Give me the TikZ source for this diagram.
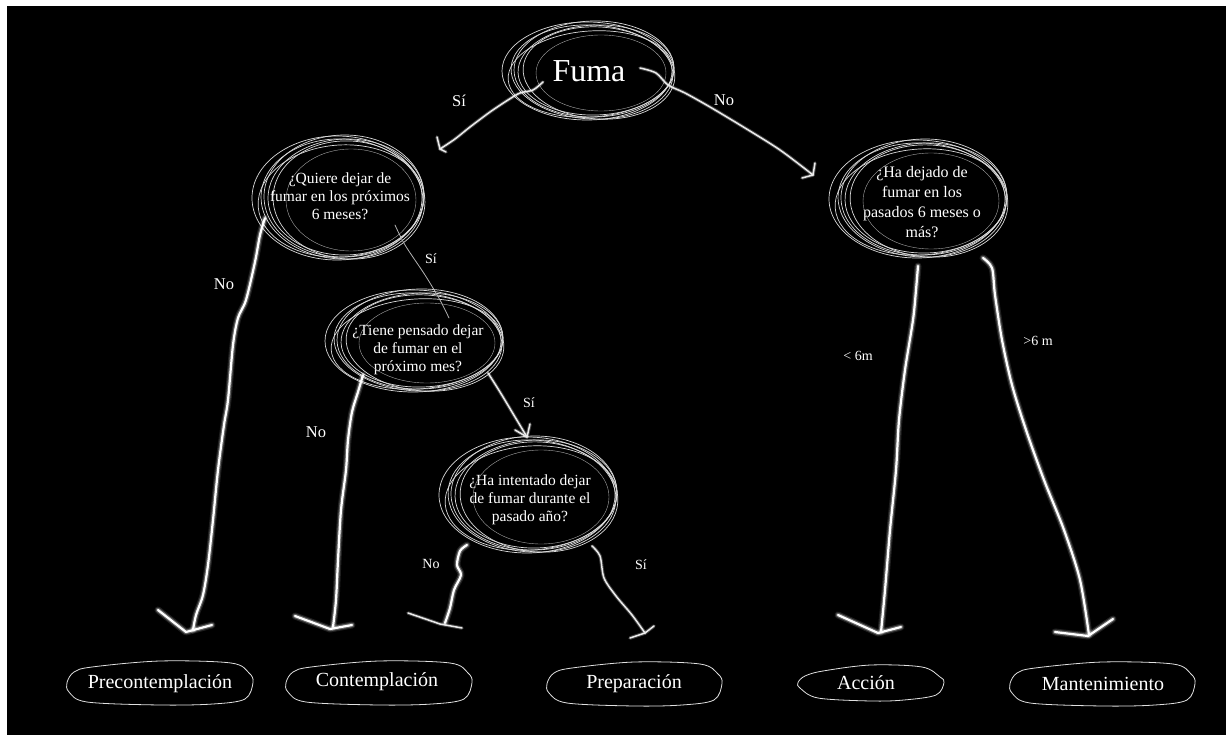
\documentclass[tikz,border=0pt]{standalone}
\usepackage{fontspec}
\setmainfont{Liberation Serif}
\usetikzlibrary{calc}
\tikzset{
  scr/.style={draw=white!85!black, line width=0.7pt},
  scrthin/.style={draw=white!65!black, line width=0.4pt},
  qtext/.style={text=white, align=center, font=\fontsize{15.5}{18}\selectfont},
  ftext/.style={text=white, font=\fontsize{32}{36}\selectfont},
  stage/.style={text=white, font=\fontsize{20}{24}\selectfont},
  elab/.style={text=white, font=\fontsize{16.5}{20}\selectfont},
  slab/.style={text=white, font=\fontsize{14}{17}\selectfont},
  blob/.style={draw=white!88!black, line width=0.8pt},
  glowA/.style={white, opacity=0.12, line width=7pt, line cap=round, line join=round},
  glowB/.style={white, opacity=0.3, line width=4.5pt, line cap=round, line join=round},
  core/.style={white, line width=2.2pt, line cap=round, line join=round},
  glowC/.style={white, opacity=0.25, line width=3.5pt, line cap=round, line join=round},
  corethin/.style={white!92!black, line width=1.5pt, line cap=round, line join=round},
  hair/.style={white!70!black, line width=0.8pt, line cap=round},
}
\newcommand\scribble[4]{%
  \foreach \dx/\dy/\drx/\dry/\rot in {0/0/0/0/0, 5/1/-4/-2/-3, 9/-1/-7/-4/2, 4/3/-2/-6/4, 12/2/-9/-3/-4, 7/-2/-5/-1/1}{%
    \draw[scr, rotate around={\rot:({#1+\dx},{#2+\dy})}] ({#1+\dx},{#2+\dy}) ellipse [x radius={(#3+\drx)*1pt}, y radius={(#4+\dry)*1pt}];
  }%
  \draw[scrthin] ({#1+14},{#2+2}) ellipse [x radius={(#3-20)*1pt}, y radius={(#4-11)*1pt}];
}
\newcommand\blobbox[4]{%
  \draw[blob] plot[smooth cycle, tension=0.55] coordinates {
    ({#1+25},{#2+6}) ({(#1+#3)/2},{#2}) ({#3-22},{#2+2}) ({#3-4},{#2+12}) ({#3},{(#2+#4)/2})
    ({#3-8},{#4-5}) ({#3-40},{#4}) ({(#1+#3)/2},{#4+1}) ({#1+20},{#4-2}) ({#1+2},{#4-12})
    ({#1},{(#2+#4)/2}) ({#1+7},{#2+11})};
}
\newcommand\glowpath[1]{\draw[glowA] #1; \draw[glowB] #1; \draw[core] #1;}
\newcommand\thinpath[1]{\draw[glowC] #1; \draw[corethin] #1;}
\begin{document}
\begin{tikzpicture}[x=1pt,y=-1pt]
\useasboundingbox (0,0) rectangle (1226,735);
\fill[white] (0,0) rectangle (1226,735);
\fill[black] (7,6) rectangle (1226,735);

% nodes
\node[ftext] (fuma) at (589,71) {Fuma};
\node[qtext] (q1) at (340,196) {¿Quiere dejar de\\fumar en los próximos\\6 meses?};
\node[qtext, font=\fontsize{16}{20}\selectfont] (q2) at (922,202) {¿Ha dejado de\\fumar en los\\pasados 6 meses o\\más?};
\node[qtext] (q3) at (418,350) {¿Tiene pensado dejar\\de fumar en el\\próximo mes?};
\node[qtext] (q4) at (530,500) {¿Ha intentado dejar\\de fumar durante el\\pasado año?};
\node[stage] (pre) at (160,684) {Precontemplación};
\node[stage] (con) at (377,682) {Contemplación};
\node[stage] (prep) at (634,684) {Preparación};
\node[stage] (acc) at (866,683) {Acción};
\node[stage] (man) at (1103,684) {Mantenimiento};

% scribbled ellipses
\scribble{587}{71}{85}{49}
\scribble{337}{198}{85}{62}
\scribble{917}{199}{88}{59}
\scribble{413}{341}{88}{51}
\scribble{527}{495}{88}{58}

% stage blobs
\blobbox{67}{661}{253}{704}
\blobbox{286}{661}{472}{704}
\blobbox{547}{662}{722}{705}
\blobbox{798}{665}{944}{700}
\blobbox{1010}{662}{1195}{705}

% connector end coordinates
\coordinate (fS) at ([shift={(-46,11)}]fuma.center);
\coordinate (fSe) at ([shift={(100,-47)}]q1.center);
\coordinate (fN) at ([shift={(51,-3)}]fuma.center);
\coordinate (fNe) at ([shift={(-109,-27)}]q2.center);
\coordinate (q1S) at ([shift={(55,29)}]q1.center);
\coordinate (q1Se) at ([shift={(31,-32)}]q3.center);
\coordinate (q1N) at ([shift={(-75,22)}]q1.center);
\coordinate (q1Ne) at ([shift={(33,-54)}]pre.center);
\coordinate (q3N) at ([shift={(-55,25)}]q3.center);
\coordinate (q3Ne) at ([shift={(-44,-55)}]con.center);
\coordinate (q3S) at ([shift={(70,23)}]q3.center);
\coordinate (q3Se) at ([shift={(-3,-63)}]q4.center);
\coordinate (q4N) at ([shift={(-63,45)}]q4.center);
\coordinate (q4Ne) at ([shift={(68,-59)}]con.center);
\coordinate (q4S) at ([shift={(62,46)}]q4.center);
\coordinate (q4Se) at ([shift={(11,-51)}]prep.center);
\coordinate (q2A) at ([shift={(-4,64)}]q2.center);
\coordinate (q2Ae) at ([shift={(15,-51)}]acc.center);
\coordinate (q2M) at ([shift={(61,56)}]q2.center);
\coordinate (q2Me) at ([shift={(-14,-49)}]man.center);

% Fuma -> q1 (Si)
\thinpath{plot[smooth] coordinates {(fS) (533,90) (520,93) (508,100) (490,112) (470,127) (455,139) (fSe)}}
\thinpath{(437,137) -- (fSe) -- (446,152)}
% Fuma -> q2 (No)
\thinpath{plot[smooth] coordinates {(fN) (656,73) (668,85) (685,93) (710,107) (745,128) (780,150) (fNe)}}
\thinpath{(815,163) -- (fNe) -- (802,178)}
% q1 -> q3 (Si)
\draw[hair] plot[smooth] coordinates {(q1S) (405,245) (425,275) (440,300) (q1Se)};
% q3 -> q4 (Si)
\thinpath{plot[smooth] coordinates {(q3S) (500,392) (515,417) (q3Se)}}
\thinpath{(515,430) -- (q3Se) -- (530,424)}
% q1 -> Precontemplacion (No)
\glowpath{plot[smooth] coordinates {(q1N) (260,235) (255,262) (246,300) (238,318) (233,345) (228,400) (224,425) (218,470) (213,520) (208,565) (203,595) (196,615) (q1Ne)}}
\glowpath{(158,610) -- (186,632) -- (212,625)}
% q3 -> Contemplacion (No)
\glowpath{plot[smooth] coordinates {(q3N) (358,392) (352,412) (348,440) (346,470) (341,510) (338,560) (336,600) (q3Ne)}}
\glowpath{(295,616) -- (330,629) -- (352,625)}
% q4 -> (No)
\glowpath{plot[smooth] coordinates {(q4N) (460,551) (457,565) (461,575) (454,590) (450,608) (q4Ne)}}
\thinpath{(408,613) -- (440,624) -- (462,628)}
% q4 -> Preparacion (Si)
\thinpath{plot[smooth] coordinates {(q4S) (600,556) (604,578) (616,596) (632,615) (q4Se)}}
\thinpath{(630,638) -- (q4Se) -- (654,626)}
% q2 -> Accion
\glowpath{plot[smooth] coordinates {(q2A) (916,290) (913,320) (905,370) (899,420) (896,470) (890,530) (885,590) (q2Ae)}}
\glowpath{(838,615) -- (878,633) -- (901,627)}
% q2 -> Mantenimiento
\glowpath{plot[smooth] coordinates {(q2M) (992,268) (995,295) (1002,340) (1012,385) (1026,430) (1044,480) (1064,530) (1080,580) (q2Me)}}
\glowpath{(1055,632) -- (1088,636) -- (1113,619)}

% edge labels
\node[elab] (l1) at (459,101) {Sí};
\node[elab] (l2) at (724,100) {No};
\node[elab] (l3) at (224,284) {No};
\node[slab] (l4) at (431,259) {Sí};
\node[elab] (l5) at (316,432) {No};
\node[slab] (l6) at (529,403) {Sí};
\node[slab] (l7) at (431,564) {No};
\node[slab] (l8) at (641,565) {Sí};
\node[slab] (l9) at (858,356) {< 6m};
\node[slab] (l10) at (1038,341) {>6 m};
\end{tikzpicture}
\end{document}
